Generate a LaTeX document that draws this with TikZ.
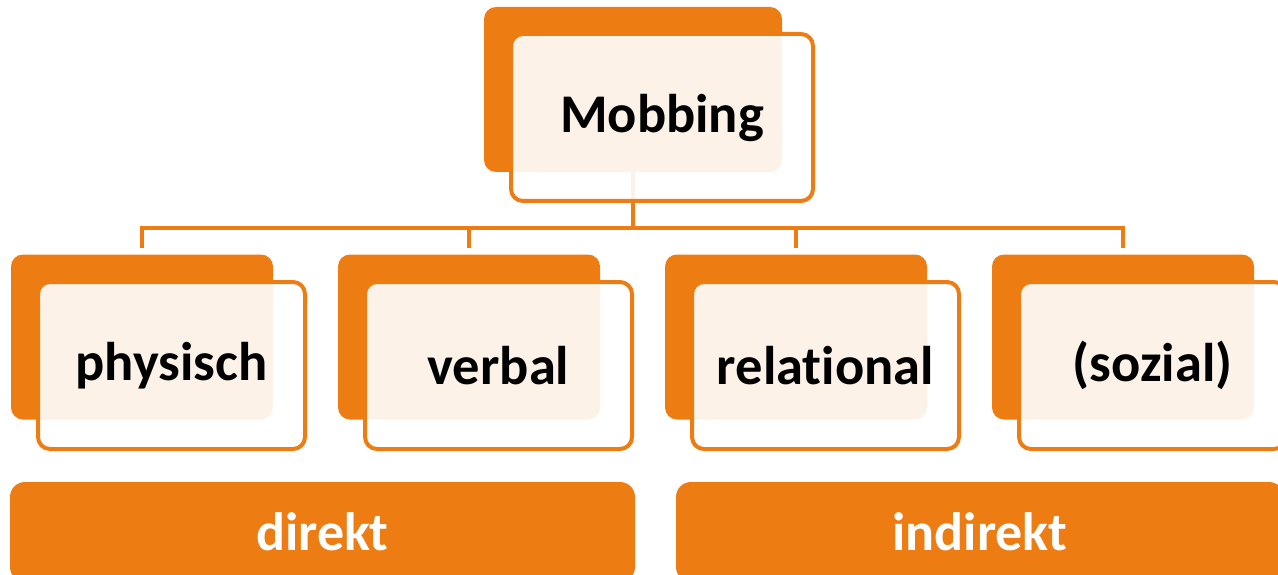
\documentclass[tikz,border=0pt]{standalone}
\usepackage{fontspec}
\setmainfont{Carlito}[Ligatures={NoCommon}]
\usetikzlibrary{positioning}
\definecolor{mobOrange}{RGB}{237,125,18}

\tikzset{
  backbox/.style={fill=mobOrange, rounded corners=12pt, minimum width=262pt, minimum height=165pt},
  frontbox/.style={draw=mobOrange, line width=4pt, fill=white, fill opacity=0.9, text opacity=1,
    rounded corners=12pt, minimum width=267pt, minimum height=167pt,
    font=\fontsize{54.5}{60}\selectfont\bfseries},
  groupbar/.style={fill=mobOrange, rounded corners=15pt, text=white, minimum height=100pt,
    font=\fontsize{54}{60}\selectfont\bfseries},
  link/.style={draw=mobOrange, line width=4pt}
}

\begin{document}
\begin{tikzpicture}[x=1pt, y=1pt, node distance=327pt, on grid]
 \useasboundingbox[fill=white] (0,0) rectangle (1278,-575);

 % back plates
 \node[backbox, minimum width=298pt] (mobB) at (633,-89.5) {};
 \node[backbox] (physB) at (142,-337) {};
 \node[backbox] (verbB) [right=of physB] {};
 \node[backbox] (relB) [right=of verbB] {};
 \node[backbox] (sozB) [right=of relB] {};

 % tree lines
 \foreach \c in {physB,verbB,relB,sozB}
  \draw[link, shorten >=6pt] (mobB.south) -- ++(0,-56) -| (\c.north);

 % front boxes with the labels
 \node[frontbox, minimum width=302pt] (mob) [below right=28pt and 29pt of mobB] {Mobbing};
 \node[frontbox] (phys) [below right=28.5pt and 29.5pt of physB] {physisch};
 \node[frontbox] (verb) [below right=28.5pt and 29.5pt of verbB] {verbal};
 \node[frontbox] (rel) [below right=28.5pt and 29.5pt of relB] {relational};
 \node[frontbox] (soz) [below right=28.5pt and 29.5pt of sozB] {(sozial)};

 % groups
 \node[groupbar, minimum width=625pt] (direkt) at (322.5,-532) {direkt};
 \node[groupbar, minimum width=608pt] (indirekt) at (980,-532) {indirekt};
\end{tikzpicture}
\end{document}
